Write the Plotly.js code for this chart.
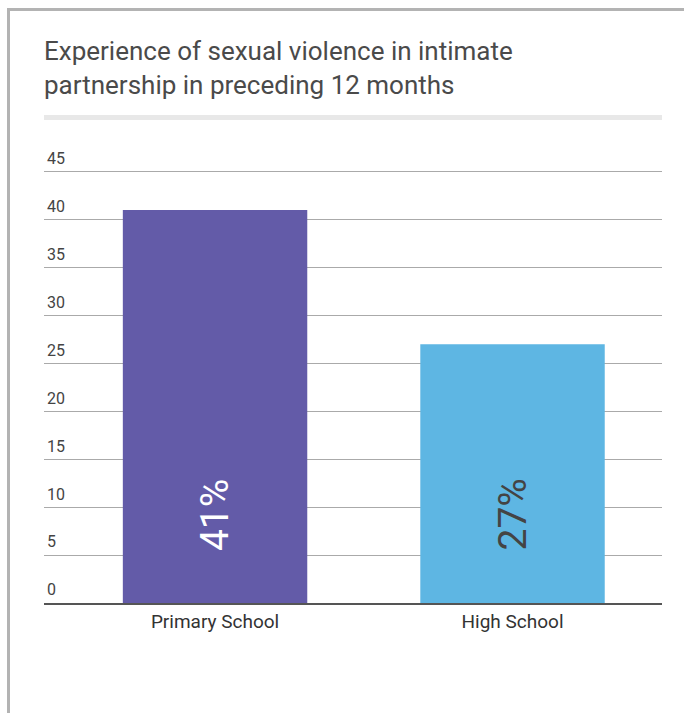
<!DOCTYPE html>
<html>
<head>
<meta charset="utf-8">
<script src="https://cdn.plot.ly/plotly-3.0.1.min.js"></script>
<style>
  html, body { margin: 0; padding: 0; background: #fff; }
  #frame { position: absolute; left: 7px; top: 8px; width: 690px; height: 720px;
           border-left: 3px solid #b3b3b3; border-top: 3px solid #b3b3b3; box-sizing: border-box; }
  #chart { position: absolute; left: 0; top: 0; width: 684px; height: 713px; }
</style>
</head>
<body>
<div id="frame"></div>
<div id="chart"></div>
<script>
const categories = ["Primary School", "High School"];
const values = [41, 27];
const barColors = ["#635BA8", "#5EB6E3"];
const labelColors = ["#ffffff", "#444444"];
const yTicks = [0, 5, 10, 15, 20, 25, 30, 35, 40, 45];
const titleText = "Experience of sexual violence in intimate<br>partnership in preceding 12 months";

const trace = {
  type: "bar",
  x: categories,
  y: values,
  marker: { color: barColors, line: { width: 0 } },
  hoverinfo: "x+y",
  showlegend: false
};

const annotations = categories.map((c, i) => ({
  x: c, y: 0, xref: "x", yref: "y",
  text: values[i] + "%",
  showarrow: false,
  textangle: -90,
  xanchor: "center", yanchor: "middle",
  yshift: 88,
  font: { family: "Roboto, sans-serif", size: 39, color: labelColors[i] }
}));

const layout = {
  width: 684, height: 713,
  paper_bgcolor: "rgba(0,0,0,0)",
  plot_bgcolor: "rgba(0,0,0,0)",
  margin: { l: 44, r: 22, t: 143, b: 110, pad: 0 },
  font: { family: "Roboto, sans-serif", color: "#444" },
  title: {
    text: titleText,
    font: { family: "Roboto, sans-serif", size: 26, color: "#4a4a4a" },
    xref: "paper", x: 0, xanchor: "left",
    yref: "container", y: 1 - 60 / 713, yanchor: "top"
  },
  bargap: 0.38,
  xaxis: {
    type: "category",
    range: [-0.575, 1.5025],
    showline: true, linecolor: "#555", linewidth: 2,
    showgrid: false, zeroline: false,
    ticks: "",
    tickfont: { family: "Roboto, sans-serif", size: 19, color: "#333" },
    fixedrange: true
  },
  yaxis: {
    range: [0, 48],
    tickvals: yTicks,
    ticktext: yTicks.map(String),
    ticklabelposition: "inside top",
    ticklabelshift: -2,
    showgrid: true, gridcolor: "#aaaaaa", gridwidth: 1,
    zeroline: false, showline: false, ticks: "",
    tickfont: { family: "Roboto, sans-serif", size: 16, color: "#444" },
    fixedrange: true
  },
  shapes: [{
    type: "rect", xref: "paper", yref: "paper",
    x0: 0, x1: 1,
    y0: (603 - 120) / 460, y1: (603 - 115) / 460,
    fillcolor: "#e8e8e8", line: { width: 0 }, layer: "below"
  }],
  annotations: annotations
};

Plotly.newPlot("chart", [trace], layout, { displayModeBar: false, staticPlot: true });
</script>
</body>
</html>
